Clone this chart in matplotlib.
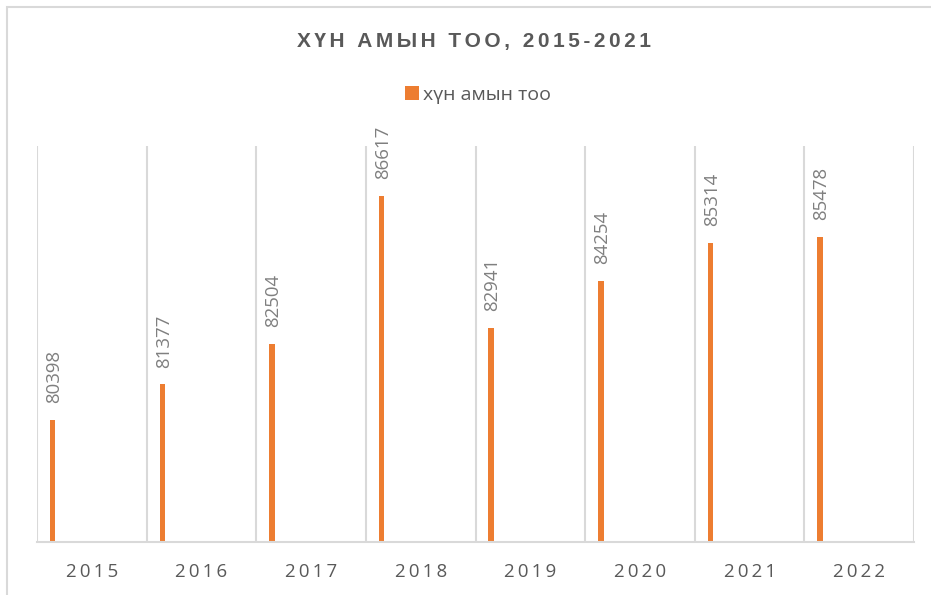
import numpy as np
import matplotlib
matplotlib.use("Agg")
from matplotlib import pyplot as plt
from matplotlib.patches import Rectangle

# data
years = ["2015", "2016", "2017", "2018", "2019", "2020", "2021", "2022"]
population = [80398, 81377, 82504, 86617, 82941, 84254, 85314, 85478]
series_name = "хүн амын тоо"
title = "ХҮН АМЫН ТОО, 2015-2021"

bar_color = "#ED7D31"
grid_color = "#D9D9D9"
fonts = ["Open Sans", "DejaVu Sans"]

def spaced(s, sep="\u2009"):
    return sep.join(s)

fig = plt.figure(figsize=(9.31, 5.95), dpi=100)
fig.patches.append(Rectangle((7 / 931, -0.1), 1.2, 1 - 7 / 595 + 0.1,
                             transform=fig.transFigure, fill=False,
                             edgecolor=grid_color, linewidth=1.5))
ax = fig.add_axes([37 / 931, 1 - 542 / 595, (914 - 37) / 931, (542 - 146) / 595])

x = np.arange(len(years))
bx = x - 0.5 + 0.143
bars = ax.bar(bx, population, width=0.05, color=bar_color, label=series_name)

for xi, v in zip(bx, population):
    ax.annotate(str(v), (xi, v), xytext=(1, 12), textcoords="offset points",
                rotation=90, ha="center", va="bottom", fontsize=13.4,
                color="#7F7F7F", family=fonts)

ax.set_ylim(77000, 88000)
ax.set_xlim(-0.5, len(years) - 0.5)
ax.set_yticks([])
ax.set_xticks(x)
ax.set_xticklabels([spaced(y) for y in years], fontsize=13.5, color="#595959",
                   family=fonts)
ax.tick_params(axis="x", length=0, pad=15)
ax.set_xticks(np.arange(-0.5, len(years)), minor=True)
ax.tick_params(axis="x", which="minor", length=0)
ax.grid(axis="x", which="minor", color=grid_color, linewidth=1.5)
ax.set_axisbelow(True)
for s in ["top", "right", "left"]:
    ax.spines[s].set_visible(False)
ax.spines["bottom"].set_color(grid_color)
ax.spines["bottom"].set_linewidth(1.5)

fig.text(474 / 931, 1 - 41 / 595, spaced(title, "\u200a\u200a"), ha="center", va="center",
         fontsize=15, fontweight="bold", color="#595959",
         family=["Liberation Sans", "DejaVu Sans"])

fig.legend(handles=[bars], loc="center", bbox_to_anchor=(478 / 931, 1 - 95 / 595),
           frameon=False, handlelength=0.7, handleheight=0.7, handletextpad=0.2,
           prop={"family": fonts, "size": 14}, labelcolor="#595959")

fig.savefig("out.png", dpi=100)
